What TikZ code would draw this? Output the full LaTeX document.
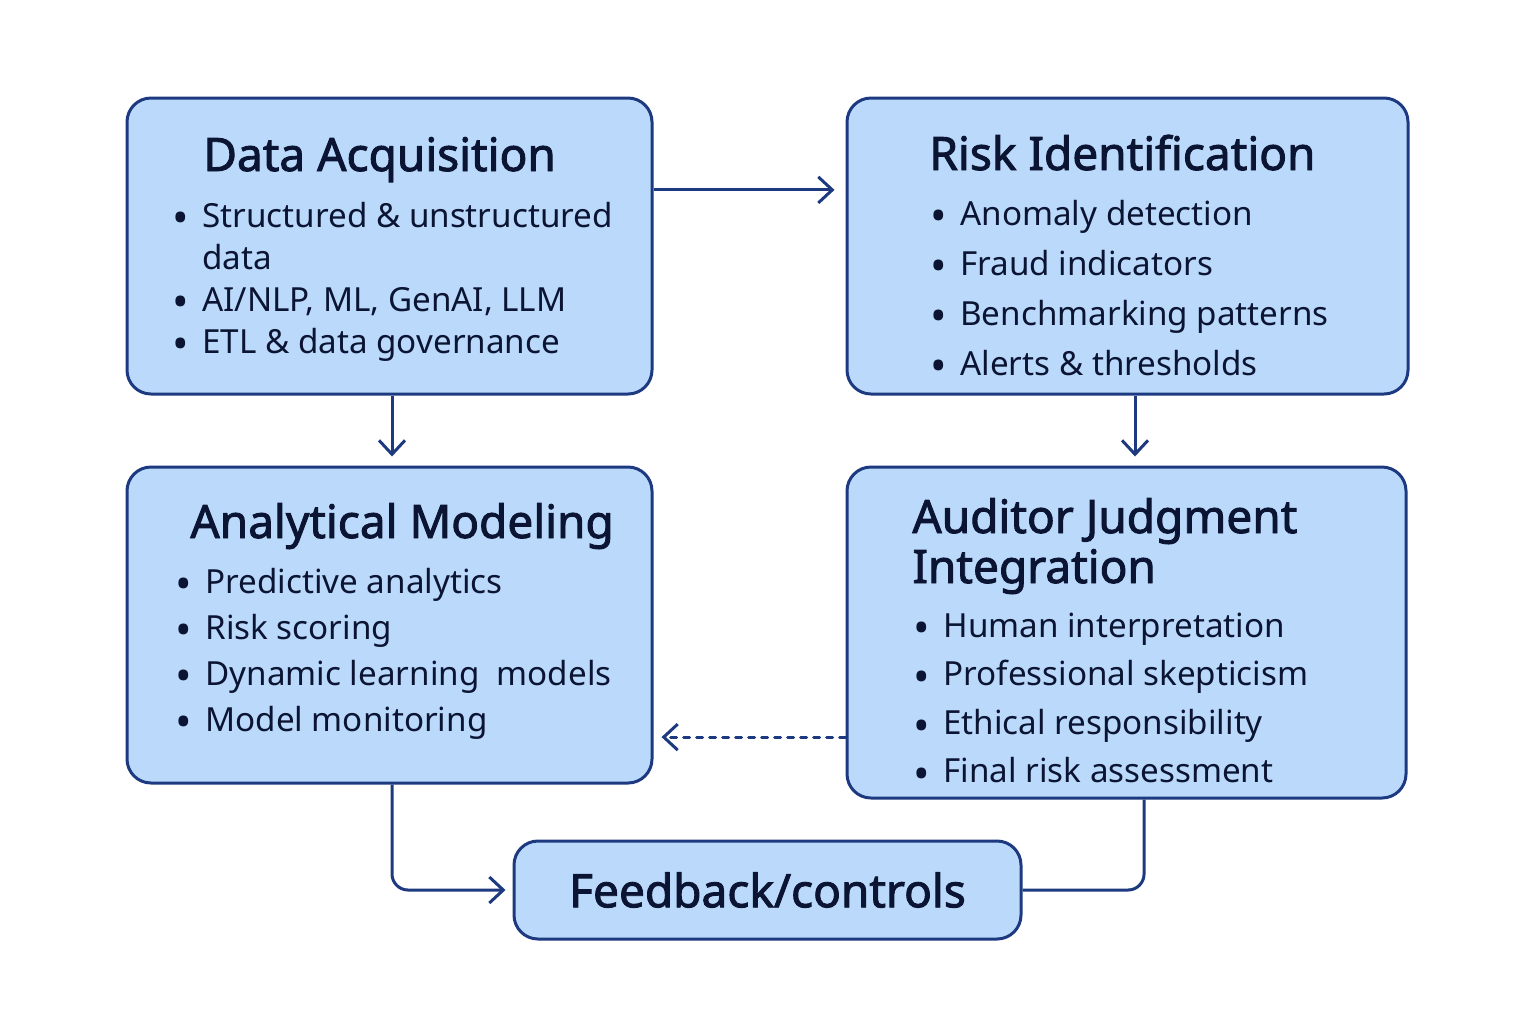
\documentclass[tikz,border=0pt]{standalone}
\usepackage{fontspec}
\setmainfont{Noto Sans}
\newfontfamily\headfont[FakeBold=2]{Noto Sans}
\usetikzlibrary{arrows.meta,positioning,calc}

\definecolor{boxfill}{HTML}{BBDAFB}
\definecolor{edge}{HTML}{1D3A80}
\definecolor{ink}{HTML}{0B1533}

\newcommand{\blt}{\raisebox{-3.4pt}[0pt][0pt]{\fontsize{22}{20}\selectfont\textbullet}}

\begin{document}
\begin{tikzpicture}[x=0.5pt,y=-0.5pt]
		\tikzstyle{stage} = [draw=edge,fill=boxfill,line width=1.5pt,rounded corners=12pt,inner sep=0pt]
		\tikzstyle{title} = [anchor=base west,inner sep=0pt,text=ink,font=\headfont\fontsize{23}{25}\selectfont]
		\tikzstyle{items} = [anchor=base west,inner sep=0pt,text=ink]
		\tikzstyle{myarrow} = [-{Straight Barb[length=7pt,width=13pt,line width=1.5pt]},line width=1.5pt,draw=edge]
		\tikzstyle{myline} = [line width=1.5pt,draw=edge,rounded corners=8pt]
		
		\useasboundingbox (0,0) rectangle (1536,1024);
		
		% Boxes
		\node [stage, minimum width=262.5pt, minimum height=148pt] (acq) at (389.5,246) {};
		\node [stage, minimum width=280.5pt, minimum height=148pt] (risk) at (1127.5,246) {};
		\node [stage, minimum width=262.5pt, minimum height=158pt] (model) at (389.5,625) {};
		\node [stage, minimum width=279.5pt, minimum height=165.5pt] (judge) at (1126.5,632.5) {};
		\node [stage, minimum width=253.5pt, minimum height=49pt, text=ink,
		       font=\headfont\fontsize{23}{25}\selectfont] (feedback) at (767.5,890) {Feedback/controls};
		
		% Titles
		\node [title] (acqT) at (203,171) {Data Acquisition};
		\node [title] (riskT) at (929,170) {Risk Identification};
		\node [title] (modelT) at (190,538) {Analytical Modeling};
		\node [title, align=left] (judgeT) at (912,583) {Auditor Judgment\\[0pt]Integration};
		
		% Bullet lists
		\node [items, font=\fontsize{16.6}{21}\selectfont] (acqL) at (172,227) {%
		  \begin{tabular}[t]{@{}p{15pt}@{}l@{}}
		  \blt & Structured \& unstructured\\
		      & data\\
		  \blt & AI/NLP, ML, GenAI, LLM\\
		  \blt & ETL \& data governance
		  \end{tabular}};
		\node [items, font=\fontsize{16.6}{25}\selectfont] (riskL) at (930,225) {%
		  \begin{tabular}[t]{@{}p{15pt}@{}l@{}}
		  \blt & Anomaly detection\\
		  \blt & Fraud indicators\\
		  \blt & Benchmarking patterns\\
		  \blt & Alerts \& thresholds
		  \end{tabular}};
		\node [items, font=\fontsize{16.6}{23}\selectfont] (modelL) at (175,593) {%
		  \begin{tabular}[t]{@{}p{15pt}@{}l@{}}
		  \blt & Predictive analytics\\
		  \blt & Risk scoring\\
		  \blt & Dynamic learning\ \ models\\
		  \blt & Model monitoring
		  \end{tabular}};
		\node [items, font=\fontsize{16.6}{24.3}\selectfont] (judgeL) at (913,637) {%
		  \begin{tabular}[t]{@{}p{15pt}@{}l@{}}
		  \blt & Human interpretation\\
		  \blt & Professional skepticism\\
		  \blt & Ethical responsibility\\
		  \blt & Final risk assessment
		  \end{tabular}};
		
		% Connectors
		\draw [myarrow, shorten >=5.5pt] (acq.12) -- (acq.12 -| risk.west);
		\draw [myarrow, shorten >=4.5pt] ([xshift=1.25pt]acq.south) -- ([xshift=1.25pt]acq.south |- model.north);
		\draw [myarrow, shorten >=4.5pt] ([xshift=3.75pt]risk.south) -- ([xshift=3.75pt]risk.south |- judge.north);
		\draw [myarrow, line cap=round, dash pattern=on 3pt off 3.5pt, shorten >=4pt] (model.-23.4 -| judge.west) -- (model.-23.4);
		\draw [myarrow, rounded corners=8pt, shorten >=3.5pt] ([xshift=1.25pt]model.south) |- (feedback.west);
		\draw [myline] (judge.-84.65) |- (feedback.east);
	\end{tikzpicture}
\end{document}
